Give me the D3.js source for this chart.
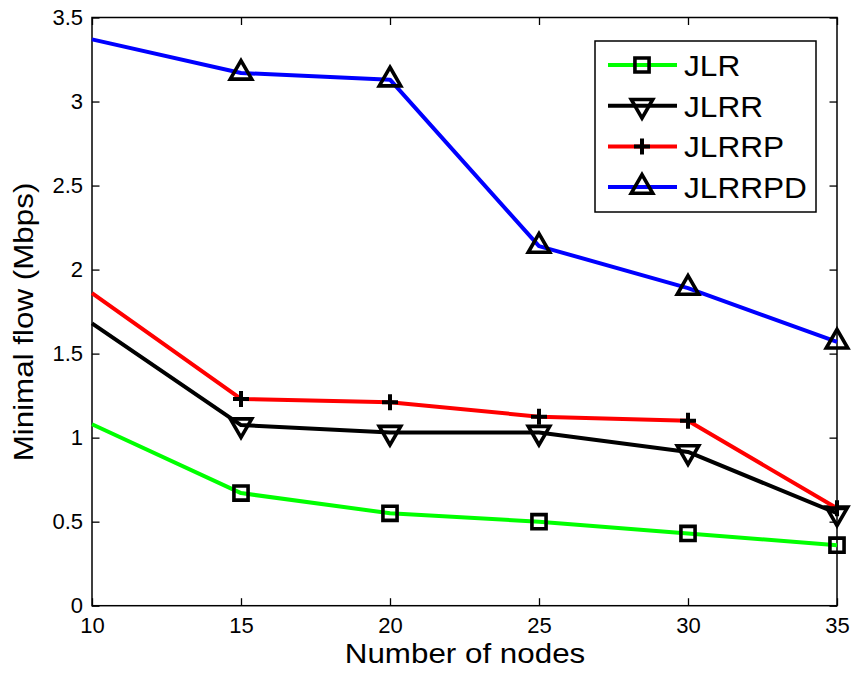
<!DOCTYPE html>
<html>
<head>
<meta charset="utf-8">
<script src="https://cdn.jsdelivr.net/npm/d3@7"></script>
<style>
  body { margin: 0; background: #fff; }
  text { font-family: "Liberation Sans", Arial, Helvetica, sans-serif; fill: #000; }
</style>
</head>
<body>
<div id="chart"></div>
<script>
// x values (number of nodes)
var nodes = [10, 15, 20, 25, 30, 35]

// minimal flow per method (Mbps)
var jlr = [1.08, 0.67, 0.55, 0.50, 0.43, 0.36]
var jlrr = [1.68, 1.075, 1.03, 1.03, 0.915, 0.55]
var jlrrp = [1.86, 1.23, 1.21, 1.125, 1.10, 0.58]
var jlrrpd = [3.37, 3.17, 3.13, 2.14, 1.89, 1.57]

var seriesNames = ['JLR', 'JLRR', 'JLRRP', 'JLRRPD']
var seriesColors = ['#00ff00', '#000000', '#ff0000', '#0000ff']
var seriesMarkers = ['square', 'down', 'plus', 'up']

var xTicks = [10, 15, 20, 25, 30, 35]
var yTicks = [0, 0.5, 1, 1.5, 2, 2.5, 3, 3.5]

const width = 855
const height = 676
// plot box edges in pixels
const plotLeft = 92, plotRight = 837, plotTop = 17.5, plotBottom = 605.7

var svg = d3.select('#chart').append('svg')
  .attr('width', width)
  .attr('height', height)

var x = d3.scaleLinear().domain([10, 35]).range([plotLeft, plotRight])
var y = d3.scaleLinear().domain([0, 3.5]).range([plotBottom, plotTop])

// draw a marker path centred on 0,0
function markerPath(type) {
  if (type == 'square') return d3.symbol().type(d3.symbolSquare).size(200)()
  if (type == 'up') return d3.symbol().type(d3.symbolTriangle).size(200)()
  if (type == 'down') return d3.symbol().type(d3.symbolTriangle).size(200)()
  return 'M-8,0H8M0,-8V8'
}
function markerTransform(type, px, py) {
  var t = 'translate(' + px + ',' + py + ')'
  if (type == 'down') t += ' rotate(180)'
  return t
}

// axes box with inward ticks on every side
var tick = 7.5
var axes = svg.append('g')
axes.append('g')
  .attr('transform', 'translate(0,' + plotBottom + ')')
  .call(d3.axisBottom(x).tickValues(xTicks).tickSizeInner(-tick).tickSizeOuter(0).tickPadding(12).tickFormat(d3.format('d')))
axes.append('g')
  .attr('transform', 'translate(0,' + plotTop + ')')
  .call(d3.axisTop(x).tickValues(xTicks).tickSizeInner(-tick).tickSizeOuter(0).tickFormat(''))
axes.append('g')
  .attr('transform', 'translate(' + plotLeft + ',0)')
  .call(d3.axisLeft(y).tickValues(yTicks).tickSizeInner(-tick).tickSizeOuter(0).tickPadding(9).tickFormat(d => String(d)))
axes.append('g')
  .attr('transform', 'translate(' + plotRight + ',0)')
  .call(d3.axisRight(y).tickValues(yTicks).tickSizeInner(-tick).tickSizeOuter(0).tickFormat(''))
axes.selectAll('.domain').remove()
axes.selectAll('.tick line').attr('stroke', '#000').attr('stroke-width', 1.3)
axes.selectAll('.tick text')
  .style('font-family', '"Liberation Sans", Arial, sans-serif')
  .style('font-size', '22px')
  .attr('fill', '#000')
axes.append('rect')
  .attr('x', plotLeft).attr('y', plotTop)
  .attr('width', plotRight - plotLeft).attr('height', plotBottom - plotTop)
  .attr('fill', 'none').attr('stroke', '#000').attr('stroke-width', 1.5)

// series (the first point carries no marker in the original)
var allSeries = [jlr, jlrr, jlrrp, jlrrpd]
var line = d3.line().x((d, i) => x(nodes[i])).y(d => y(d))

allSeries.forEach(function (values, s) {
  var g = svg.append('g')
  g.append('path')
    .datum(values)
    .attr('d', line)
    .attr('fill', 'none')
    .attr('stroke', seriesColors[s])
    .attr('stroke-width', 4)
    .attr('stroke-linejoin', 'round')
  var pts = values.map((v, i) => ({ n: nodes[i], v: v })).slice(1)
  g.selectAll('.marker')
    .data(pts)
    .enter()
    .append('path')
    .attr('d', markerPath(seriesMarkers[s]))
    .attr('transform', d => markerTransform(seriesMarkers[s], x(d.n), y(d.v)))
    .attr('fill', 'none')
    .attr('stroke', '#000')
    .attr('stroke-width', seriesMarkers[s] == 'plus' ? 4 : 3.6)
})

// legend
var legend = svg.append('g')
legend.append('rect')
  .attr('x', 595).attr('y', 41)
  .attr('width', 221).attr('height', 171)
  .attr('fill', '#fff').attr('stroke', '#000').attr('stroke-width', 1.5)

seriesNames.forEach(function (name, s) {
  var cy = 65 + s * 40.7
  legend.append('line')
    .attr('x1', 608).attr('x2', 677)
    .attr('y1', cy).attr('y2', cy)
    .attr('stroke', seriesColors[s]).attr('stroke-width', 4)
  legend.append('path')
    .attr('d', markerPath(seriesMarkers[s]))
    .attr('transform', markerTransform(seriesMarkers[s], 642, cy))
    .attr('fill', 'none')
    .attr('stroke', '#000')
    .attr('stroke-width', seriesMarkers[s] == 'plus' ? 4 : 3.6)
  legend.append('text')
    .attr('transform', 'translate(684,' + (cy + 11) + ') scale(1.09,1)')
    .style('font-size', '29px')
    .text(name)
})

// axis titles
svg.append('text')
  .attr('transform', 'translate(465,663) scale(1.12,1)')
  .attr('text-anchor', 'middle')
  .style('font-size', '28px')
  .text('Number of nodes')

svg.append('text')
  .attr('transform', 'translate(33,322) rotate(-90) scale(1.12,1)')
  .attr('text-anchor', 'middle')
  .style('font-size', '28px')
  .text('Minimal flow (Mbps)')
</script>
</body>
</html>
